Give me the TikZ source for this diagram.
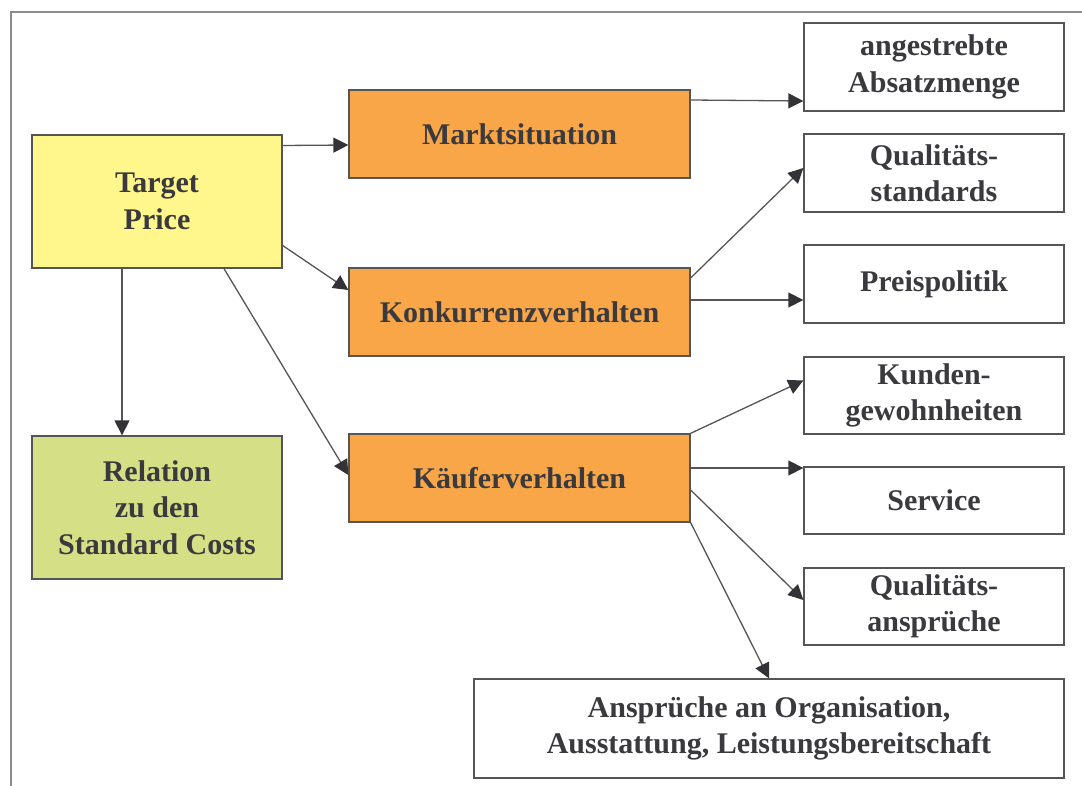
\documentclass[tikz,border=0pt]{standalone}
\usepackage{fontspec}
\setmainfont{Liberation Serif}
\usetikzlibrary{arrows.meta}
\definecolor{tpYellow}{RGB}{255,247,140}
\definecolor{tpOrange}{RGB}{248,166,72}
\definecolor{tpGreen}{RGB}{213,224,134}
\definecolor{tpLine}{RGB}{85,85,85}
\definecolor{tpHead}{RGB}{50,50,55}
\definecolor{tpText}{RGB}{58,58,62}
\definecolor{tpFrame}{RGB}{140,140,140}
\begin{document}
\begin{tikzpicture}[x=1pt,y=-1pt,
    tpBox/.style={draw=tpLine,line width=1.3pt,fill=white,inner sep=0pt,align=center,
        text=tpText,font=\fontsize{30}{36.5}\selectfont\bfseries},
    tpArrow/.style={-{Triangle[length=15pt,width=15pt,color=tpHead]},draw=tpLine,line width=1.3pt},
]
\useasboundingbox (0,0) rectangle (1082,786);
% Frame
\draw[tpFrame, line width=1.5pt] (11,786) -- (11,12) -- (1082,12);
% Left column
\node[tpBox, fill=tpYellow, minimum width=250pt, minimum height=133pt] (tp) at (157,201.5) {Target\\Price};
\node[tpBox, fill=tpGreen, minimum width=250pt, minimum height=143pt] (rel) at (157,507.5) {Relation\\zu den\\Standard Costs};
% Middle column
\node[tpBox, fill=tpOrange, minimum width=341pt, minimum height=88pt] (mk) at (519.5,134) {Marktsituation};
\node[tpBox, fill=tpOrange, minimum width=341pt, minimum height=88pt] (kv) at (519.5,312) {Konkurrenzverhalten};
\node[tpBox, fill=tpOrange, minimum width=341pt, minimum height=88pt] (kf) at (519.5,478) {Käuferverhalten};
% Right column
\node[tpBox, minimum width=260pt, minimum height=88pt] (ab) at (934,67) {angestrebte\\Absatzmenge};
\node[tpBox, minimum width=260pt, minimum height=78pt] (qs) at (934,173) {Qualitäts-\\standards};
\node[tpBox, minimum width=260pt, minimum height=78pt] (pp) at (934,284) {Preispolitik};
\node[tpBox, minimum width=260pt, minimum height=77pt] (ku) at (934,395.5) {Kunden-\\gewohnheiten};
\node[tpBox, minimum width=260pt, minimum height=67pt] (sv) at (934,500.5) {Service};
\node[tpBox, minimum width=260pt, minimum height=77pt] (qa) at (934,606.5) {Qualitäts-\\ansprüche};
\node[tpBox, minimum width=590pt, minimum height=99pt] (an) at (769,728.5) {Ansprüche an Organisation,\\Ausstattung, Leistungsbereitschaft};
% Arrows from Target Price
\draw[tpArrow] ([yshift=56pt]tp.east) -- ([yshift=-11pt]mk.west);
\draw[tpArrow] ([yshift=-44pt]tp.east) -- ([yshift=22pt]kv.west);
\draw[tpArrow] ([xshift=67pt]tp.south) -- ([yshift=3pt]kf.west);
\draw[tpArrow] ([xshift=-35pt]tp.south) -- ([xshift=-35pt]rel.north);
% Arrows to the right column
\draw[tpArrow] ([yshift=34pt]mk.east) -- ([yshift=-34pt]ab.west);
\draw[tpArrow] ([yshift=34pt]kv.east) -- ([yshift=5pt]qs.west);
\draw[tpArrow] ([yshift=12pt]kv.east) -- ([yshift=-16pt]pp.west);
\draw[tpArrow] (kf.north east) -- ([yshift=15pt]ku.west);
\draw[tpArrow] ([yshift=10pt]kf.east) -- ([yshift=32.5pt]sv.west);
\draw[tpArrow] ([yshift=-12pt]kf.east) -- ([yshift=6.5pt]qa.west);
\draw[tpArrow] (kf.south east) -- (an.north);
\end{tikzpicture}
\end{document}
